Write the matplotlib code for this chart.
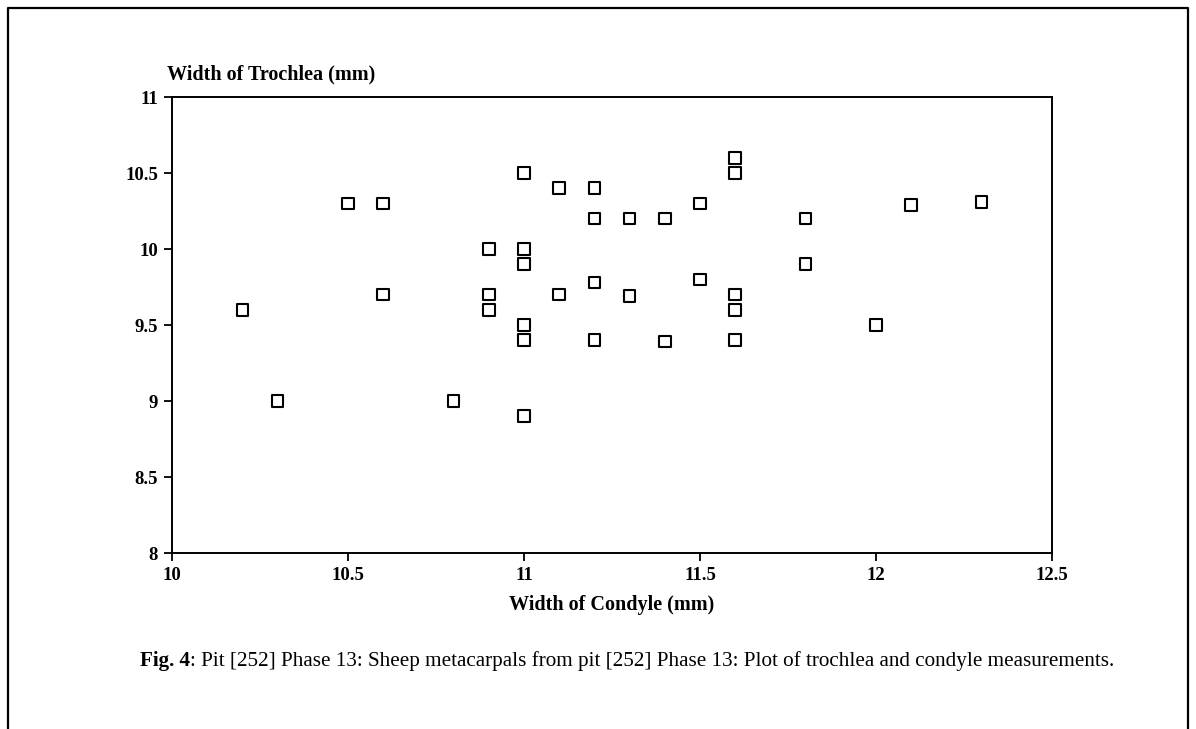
import matplotlib
matplotlib.use("Agg")
import matplotlib.pyplot as plt
from matplotlib.lines import Line2D

condyle = [10.2, 10.3, 10.5, 10.6, 10.6, 10.8, 10.9, 10.9, 10.9,
           11.0, 11.0, 11.0, 11.0, 11.0, 11.0, 11.1, 11.1,
           11.2, 11.2, 11.2, 11.2, 11.3, 11.3, 11.4, 11.4,
           11.5, 11.5, 11.6, 11.6, 11.6, 11.6, 11.6,
           11.8, 11.8, 12.0, 12.1, 12.3]
trochlea = [9.6, 9.0, 10.3, 10.3, 9.7, 9.0, 10.0, 9.7, 9.6,
            10.5, 10.0, 9.9, 9.5, 9.4, 8.9, 10.4, 9.7,
            10.4, 10.2, 9.78, 9.4, 10.2, 9.69, 10.2, 9.39,
            10.3, 9.8, 10.6, 10.5, 9.7, 9.6, 9.4,
            10.2, 9.9, 9.5, 10.29, 10.31]

xticks = [10, 10.5, 11, 11.5, 12, 12.5]
xticklabels = ["10", "10.5", "11", "11.5", "12", "12.5"]
yticks = [8, 8.5, 9, 9.5, 10, 10.5, 11]
yticklabels = ["8", "8.5", "9", "9.5", "10", "10.5", "11"]

plt.rcParams['font.family'] = ['Liberation Serif', 'DejaVu Serif']

W, H = 1196, 729
fig = plt.figure(figsize=(W / 100, H / 100), dpi=100)
fig.patch.set_facecolor('white')

ax = fig.add_axes([172 / W, 1 - 553 / H, 880 / W, 456 / H])
ax.scatter(condyle, trochlea, marker='s', s=68, facecolors='none',
           edgecolors='black', linewidths=1.5, zorder=3)

ax.set_xlim(10, 12.5)
ax.set_ylim(8, 11)
ax.set_xticks(xticks)
ax.set_xticklabels(xticklabels)
ax.set_yticks(yticks)
ax.set_yticklabels(yticklabels)
for lab in ax.get_xticklabels() + ax.get_yticklabels():
    lab.set_fontweight('bold')
    lab.set_fontsize(13.5)
ax.tick_params(direction='out', length=6, width=1.3, pad=4, colors='black')
for sp in ax.spines.values():
    sp.set_linewidth(1.4)
    sp.set_color('black')

ax.set_xlabel("Width of Condyle (mm)", fontsize=14.5, fontweight='bold', labelpad=8)
fig.text(167 / W, 1 - 74 / H, "Width of Trochlea (mm)", fontsize=14.5,
         fontweight='bold', ha='left', va='center')

# caption
t1 = fig.text(140 / W, 1 - 671 / H, "Fig. 4", fontsize=15.2, fontweight='bold',
              ha='left', va='bottom')
fig.add_artist(plt.Annotation(
    ": Pit [252] Phase 13: Sheep metacarpals from pit [252] Phase 13: Plot of trochlea and condyle measurements.",
    xy=(1, 0), xycoords=t1, ha='left', va='bottom', fontsize=15.2))

# outer frame (open at bottom)
fx0, fx1, fy = 8 / W, 1188 / W, 1 - 8 / H
fig.add_artist(Line2D([fx0, fx0, fx1, fx1], [0, fy, fy, 0],
                      transform=fig.transFigure, color='black', linewidth=1.6))

fig.savefig("out.png", dpi=100, facecolor='white')
